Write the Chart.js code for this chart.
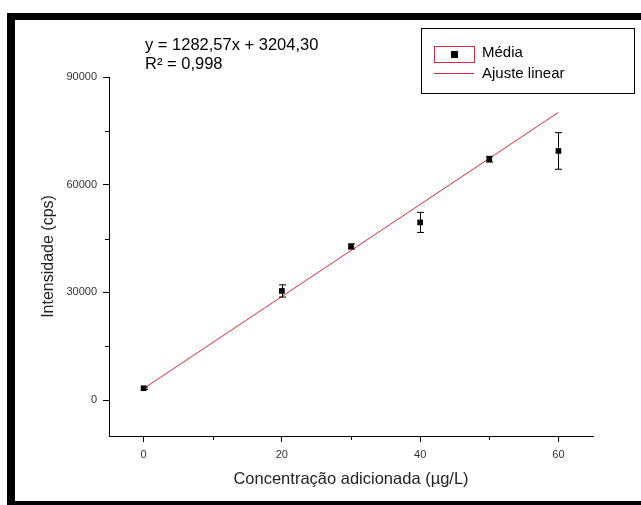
<!DOCTYPE html>
<html>
<head>
<meta charset="utf-8">
<script src="https://cdn.jsdelivr.net/npm/chart.js@4.4.1/dist/chart.umd.min.js"></script>
<style>
  body { margin: 0; background: #fff; overflow: hidden; }
  #frame {
    position: absolute; left: 7px; top: 13px;
    width: 700px; height: 481px;
    border-top: 7px solid #000; border-left: 8px solid #000; border-bottom: 8px solid #000;
  }
  #wrap { position: absolute; left: 0; top: 0; width: 641px; height: 505px; }
</style>
</head>
<body>
<div id="frame"></div>
<div id="wrap"><canvas id="chart"></canvas></div>
<script>
// dados
const conc = [0, 20, 30, 40, 50, 60];
const media = [3300, 30400, 42800, 49500, 67100, 69400];
const erro = [300, 1700, 700, 2800, 800, 5100];

// reta de ajuste (y = 1282,57x + 3204,30)
const ajusteX = [0, 60];
const ajusteY = [3204.3, 80158.5];

const xMajor = [0, 20, 40, 60];
const xMinor = [10, 30, 50];
const yMajor = [0, 30000, 60000, 90000];
const yMinor = [15000, 45000, 75000];

const vermelho = 'rgb(212,42,62)';
const fonte = '"Liberation Sans", Arial, sans-serif';

// barras de erro + ticks menores
const extras = {
    id: 'extras',
    afterDatasetsDraw(chart) {
        const ctx = chart.ctx;
        const x = chart.scales.x;
        const y = chart.scales.y;
        ctx.save();
        ctx.strokeStyle = '#000';
        ctx.lineWidth = 1;
        for (let i = 0; i < conc.length; i++) {
            const px = Math.round(x.getPixelForValue(conc[i])) + 0.5;
            const top = y.getPixelForValue(media[i] + erro[i]);
            const bot = y.getPixelForValue(media[i] - erro[i]);
            ctx.beginPath();
            ctx.moveTo(px, top); ctx.lineTo(px, bot);
            ctx.moveTo(px - 3.5, top); ctx.lineTo(px + 3.5, top);
            ctx.moveTo(px - 3.5, bot); ctx.lineTo(px + 3.5, bot);
            ctx.stroke();
        }
        // ticks menores
        ctx.beginPath();
        for (const v of xMinor) {
            const px = Math.round(x.getPixelForValue(v)) + 0.5;
            ctx.moveTo(px, x.top); ctx.lineTo(px, x.top + 4);
        }
        for (const v of yMinor) {
            const py = Math.round(y.getPixelForValue(v)) + 0.5;
            ctx.moveTo(y.right, py); ctx.lineTo(y.right - 4, py);
        }
        ctx.stroke();
        ctx.restore();
    },
    afterDraw(chart) {
        const ctx = chart.ctx;
        ctx.save();
        // equação
        ctx.fillStyle = '#000';
        ctx.font = '16.5px ' + fonte;
        ctx.textBaseline = 'middle';
        ctx.fillText('y = 1282,57x + 3204,30', 145, 45);
        ctx.fillText('R² = 0,998', 145, 64);
        // legenda
        ctx.strokeStyle = '#000';
        ctx.lineWidth = 1;
        ctx.strokeRect(421.5, 28.5, 213, 65);
        ctx.strokeStyle = vermelho;
        ctx.strokeRect(434.5, 46.5, 40, 16);
        ctx.fillStyle = '#000';
        ctx.fillRect(451, 51, 7, 7);
        ctx.beginPath();
        ctx.moveTo(434, 73.5); ctx.lineTo(474, 73.5);
        ctx.stroke();
        ctx.fillStyle = '#000';
        ctx.font = '15px ' + fonte;
        ctx.fillText('Média', 482, 53);
        ctx.fillText('Ajuste linear', 482, 74);
        ctx.restore();
    }
};

new Chart(document.getElementById('chart'), {
    type: 'scatter',
    data: {
        datasets: [{
                label: 'Ajuste linear',
                type: 'line',
                data: ajusteX.map((v, i) => ({ x: v, y: ajusteY[i] })),
                borderColor: vermelho,
                borderWidth: 1,
                pointRadius: 0,
                fill: false,
                order: 2
            },
            {
                label: 'Média',
                data: conc.map((v, i) => ({ x: v, y: media[i] })),
                pointStyle: 'rect',
                pointRadius: 4,
                backgroundColor: '#000',
                borderColor: '#000',
                borderWidth: 0,
                order: 1
            }
        ]
    },
    options: {
        responsive: true,
        maintainAspectRatio: false,
        animation: false,
        layout: { padding: { left: 0, top: 77, right: 48, bottom: 0 } },
        plugins: { legend: { display: false }, tooltip: { enabled: false } },
        scales: {
            x: {
                type: 'linear',
                min: -5,
                max: 65,
                afterFit(s) { s.height = 69; },
                afterBuildTicks(s) { s.ticks = xMajor.map(v => ({ value: v })); },
                grid: { drawOnChartArea: false, color: '#000', tickLength: 6, tickColor: '#000' },
                border: { color: '#000', width: 1 },
                ticks: { color: '#333', font: { size: 11, family: fonte }, padding: 6, maxRotation: 0 },
                title: {
                    display: true,
                    text: 'Concentração adicionada (µg/L)',
                    color: '#222',
                    font: { size: 16.5, family: fonte },
                    padding: { top: 0, bottom: 16 }
                }
            },
            y: {
                type: 'linear',
                min: -10000,
                max: 90000,
                afterFit(s) { s.width = 109; },
                afterBuildTicks(s) { s.ticks = yMajor.map(v => ({ value: v })); },
                grid: { drawOnChartArea: false, color: '#000', tickLength: 6, tickColor: '#000' },
                border: { color: '#000', width: 1 },
                ticks: { color: '#333', font: { size: 11, family: fonte }, padding: 6, callback: v => String(v) },
                title: {
                    display: true,
                    text: 'Intensidade (cps)',
                    color: '#222',
                    font: { size: 16, family: fonte },
                    padding: { top: 39, bottom: 0 }
                }
            }
        }
    },
    plugins: [extras]
});
</script>
</body>
</html>
